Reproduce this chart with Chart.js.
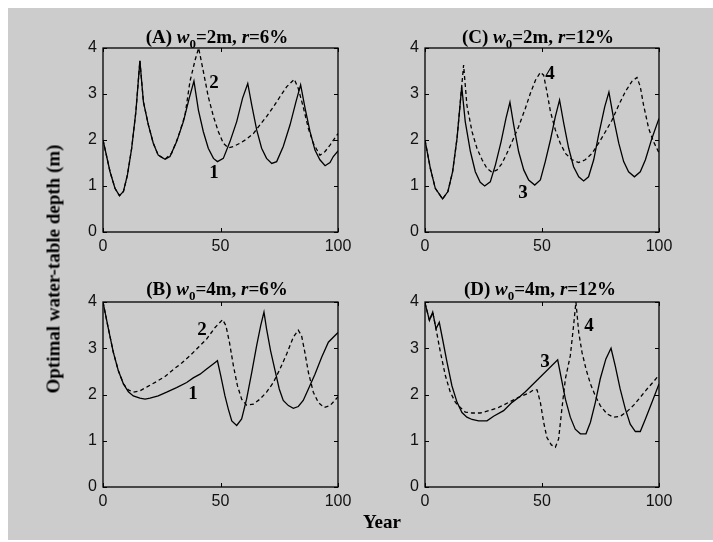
<!DOCTYPE html>
<html>
<head>
<meta charset="utf-8">
<title>Optimal water-table depth</title>
<script src="https://cdn.jsdelivr.net/npm/chart.js@4.4.0/dist/chart.umd.min.js"></script>
<style>
  body { margin: 0; background: #fff; }
  #fig { position: relative; width: 713px; height: 542px; overflow: hidden; }
  #bg { position: absolute; left: 8px; top: 8px; width: 705px; height: 532px; background: #cccccc; }
  canvas { position: absolute; }
  .lbl { position: absolute; font: bold 19px "Liberation Serif", "Times New Roman", serif; line-height: 19px; color: #000; white-space: nowrap; }
  .ttl { transform: translateX(-50%); }
  .ttl sub { font-size: 13px; line-height: 0; vertical-align: -5px; }
  #ylab { left: 53px; top: 269px; transform: translate(-50%, -50%) rotate(-90deg); }
  #xlab { left: 382px; top: 512px; transform: translateX(-50%); }
</style>
</head>
<body>
<div id="fig">
  <div id="bg"></div>
  <canvas id="panelA" width="320" height="220" style="left:43px;top:40px"></canvas>
  <canvas id="panelC" width="320" height="220" style="left:365px;top:40px"></canvas>
  <canvas id="panelB" width="320" height="221" style="left:43px;top:294px"></canvas>
  <canvas id="panelD" width="320" height="221" style="left:365px;top:294px"></canvas>
  <div class="lbl ttl" style="left:217px;top:27px">(A) <i>w</i><sub>0</sub>=2m, <i>r</i>=6%</div>
  <div class="lbl ttl" style="left:538px;top:27px">(C) <i>w</i><sub>0</sub>=2m, <i>r</i>=12%</div>
  <div class="lbl ttl" style="left:217px;top:279px">(B) <i>w</i><sub>0</sub>=4m, <i>r</i>=6%</div>
  <div class="lbl ttl" style="left:540px;top:279px">(D) <i>w</i><sub>0</sub>=4m, <i>r</i>=12%</div>
  <div class="lbl" id="ylab">Optimal water-table depth (m)</div>
  <div class="lbl" id="xlab">Year</div>
</div>
<script>
'use strict';

// tick labels
var yearTicks = [0, 50, 100];
var depthTicks = [0, 1, 2, 3, 4];

// (A) w0=2m, r=6%  -- curve 1 solid, curve 2 dashed
var yearA1 = [0, 3.0, 5.1, 7.0, 8.7, 10.4, 12.2, 14.0, 15.7, 17.2, 19.3, 21.4, 23.5, 26.4, 28.5, 31.3, 34.2, 36.7, 38.7, 40.6, 42.7, 44.8, 47.0, 48.7, 51.2, 54.0, 56.9, 59.4, 61.6, 63.3, 65.4, 67.5, 69.6, 71.8, 73.9, 76.7, 79.6, 82.1, 84.1, 86.0, 88.1, 90.2, 92.3, 94.5, 96.6, 98.0, 100];
var depthA1 = [2.0, 1.31, 0.95, 0.79, 0.88, 1.24, 1.82, 2.62, 3.72, 2.83, 2.33, 1.93, 1.67, 1.58, 1.64, 1.96, 2.40, 2.91, 3.28, 2.65, 2.18, 1.82, 1.60, 1.53, 1.60, 1.96, 2.40, 2.91, 3.23, 2.76, 2.22, 1.82, 1.60, 1.49, 1.53, 1.86, 2.33, 2.83, 3.20, 2.69, 2.18, 1.78, 1.57, 1.44, 1.51, 1.64, 1.76];
var yearA2 = [0, 3.0, 5.1, 7.0, 8.7, 10.4, 12.2, 14.0, 15.7, 17.2, 19.3, 21.4, 23.5, 26.4, 29.2, 32.0, 34.9, 37.0, 39.2, 40.7, 42.7, 44.8, 47.0, 49.1, 51.2, 53.3, 55.5, 58.3, 61.1, 64.0, 66.8, 69.6, 72.5, 75.3, 78.2, 81.4, 83.1, 85.2, 87.4, 89.5, 92.3, 94.5, 96.6, 100];
var depthA2 = [2.0, 1.31, 0.95, 0.79, 0.88, 1.24, 1.82, 2.62, 3.72, 2.83, 2.33, 1.93, 1.67, 1.58, 1.71, 2.07, 2.54, 3.27, 3.74, 4.0, 3.49, 2.94, 2.51, 2.18, 1.93, 1.83, 1.86, 1.93, 2.02, 2.14, 2.33, 2.51, 2.72, 2.94, 3.16, 3.32, 3.12, 2.72, 2.25, 1.93, 1.67, 1.75, 1.89, 2.14];

// (C) w0=2m, r=12%  -- curve 3 solid, curve 4 dashed
var yearC3 = [0, 2.3, 4.4, 7.5, 9.8, 11.8, 13.7, 15.7, 17.2, 19.4, 21.5, 23.6, 25.5, 27.9, 30.1, 32.5, 34.6, 36.3, 37.9, 40.0, 42.2, 44.3, 46.9, 49.3, 51.4, 53.6, 55.7, 57.5, 59.3, 61.4, 63.5, 65.7, 67.8, 69.9, 72.1, 74.2, 76.8, 78.6, 80.6, 82.8, 84.9, 87.0, 89.5, 92.0, 94.2, 97.0, 100];
var depthC3 = [2.0, 1.38, 0.95, 0.72, 0.88, 1.31, 2.04, 3.16, 2.40, 1.75, 1.31, 1.08, 1.00, 1.09, 1.46, 1.96, 2.47, 2.82, 2.33, 1.75, 1.35, 1.13, 1.02, 1.13, 1.53, 2.0, 2.51, 2.87, 2.36, 1.82, 1.42, 1.20, 1.11, 1.20, 1.57, 2.11, 2.72, 3.04, 2.47, 1.93, 1.53, 1.31, 1.20, 1.31, 1.57, 2.04, 2.47];
var yearC4 = [0, 2.3, 4.4, 7.5, 9.8, 11.8, 13.7, 16.5, 17.9, 20.1, 22.2, 24.4, 26.5, 28.6, 30.8, 32.9, 35.0, 37.2, 40.0, 42.9, 45.0, 47.2, 49.3, 50.7, 52.1, 53.6, 55.7, 57.8, 60.0, 62.8, 65.7, 68.5, 71.4, 74.2, 77.1, 79.9, 82.8, 85.6, 88.5, 90.6, 92.0, 93.4, 95.6, 97.7, 100];
var depthC4 = [2.0, 1.38, 0.95, 0.72, 0.88, 1.31, 2.04, 3.63, 2.76, 2.18, 1.82, 1.57, 1.38, 1.30, 1.35, 1.49, 1.71, 1.96, 2.29, 2.69, 3.01, 3.30, 3.47, 3.41, 3.05, 2.62, 2.22, 1.93, 1.71, 1.57, 1.51, 1.57, 1.71, 1.93, 2.18, 2.43, 2.76, 3.05, 3.28, 3.36, 3.16, 2.76, 2.25, 1.96, 1.72];

// (B) w0=4m, r=6%
var yearB1 = [0, 2.3, 4.4, 6.5, 8.7, 10.8, 12.9, 15.7, 17.9, 20.0, 23.5, 27.1, 31.3, 35.6, 38.4, 41.3, 44.1, 46.9, 48.7, 50.1, 51.9, 53.3, 54.8, 56.9, 59.0, 61.1, 63.3, 65.4, 67.1, 68.5, 69.6, 71.3, 73.2, 75.0, 76.7, 78.9, 81.0, 83.1, 85.2, 87.4, 90.2, 93.0, 95.9, 100];
var depthB1 = [4.0, 3.42, 2.91, 2.52, 2.23, 2.06, 1.97, 1.92, 1.90, 1.92, 1.97, 2.05, 2.15, 2.26, 2.36, 2.44, 2.55, 2.66, 2.73, 2.41, 1.97, 1.69, 1.43, 1.33, 1.47, 1.90, 2.48, 3.06, 3.49, 3.78, 3.42, 2.95, 2.52, 2.12, 1.87, 1.76, 1.70, 1.74, 1.87, 2.12, 2.44, 2.80, 3.13, 3.34];
var yearB2 = [0, 2.3, 4.4, 6.5, 8.7, 10.8, 12.9, 15.7, 19.3, 22.8, 26.4, 29.9, 33.5, 37.0, 40.6, 44.1, 47.7, 50.9, 52.3, 53.8, 55.5, 57.2, 59.0, 61.1, 64.0, 66.8, 69.6, 72.5, 75.3, 78.2, 81.0, 83.1, 84.5, 85.9, 87.4, 89.5, 91.6, 94.0, 96.6, 100];
var depthB2 = [4.0, 3.42, 2.91, 2.52, 2.23, 2.10, 2.05, 2.08, 2.18, 2.28, 2.39, 2.54, 2.68, 2.84, 3.02, 3.20, 3.45, 3.62, 3.49, 3.13, 2.62, 2.19, 1.90, 1.77, 1.79, 1.90, 2.05, 2.26, 2.55, 2.88, 3.24, 3.39, 3.27, 2.91, 2.48, 2.05, 1.83, 1.72, 1.76, 1.95];

// (D) w0=4m, r=12%
var yearD3 = [0, 1.9, 3.3, 4.7, 6.1, 7.5, 9.4, 11.5, 13.7, 15.8, 17.9, 20.1, 22.9, 26.5, 29.3, 33.6, 37.2, 40.7, 42.9, 56.7, 58.3, 60.0, 62.1, 64.2, 66.4, 68.8, 70.7, 72.8, 74.9, 77.3, 79.5, 81.3, 83.4, 85.6, 87.7, 89.9, 92.0, 94.2, 97.0, 100];
var depthD3 = [3.98, 3.6, 3.78, 3.42, 3.56, 3.20, 2.70, 2.19, 1.83, 1.61, 1.51, 1.46, 1.43, 1.43, 1.53, 1.65, 1.83, 1.96, 2.06, 2.75, 2.34, 1.90, 1.51, 1.25, 1.15, 1.15, 1.40, 1.83, 2.34, 2.77, 3.0, 2.62, 2.12, 1.69, 1.36, 1.20, 1.20, 1.47, 1.83, 2.23];
var yearD4 = [0, 1.9, 3.3, 4.7, 6.6, 8.7, 10.8, 13.0, 15.1, 17.2, 20.1, 23.6, 27.2, 31.5, 35.8, 40.0, 44.3, 46.4, 47.9, 49.3, 50.7, 52.1, 54.0, 55.7, 57.1, 58.5, 60.0, 62.1, 63.5, 64.5, 65.7, 67.1, 68.8, 70.7, 72.8, 74.9, 77.8, 80.6, 83.5, 86.3, 89.2, 92.0, 94.9, 97.7, 100];
var depthD4 = [3.98, 3.6, 3.78, 3.42, 2.91, 2.41, 2.05, 1.83, 1.72, 1.62, 1.60, 1.60, 1.65, 1.72, 1.83, 1.94, 2.03, 2.10, 2.10, 1.83, 1.40, 1.07, 0.91, 0.86, 1.04, 1.69, 2.34, 2.84, 3.49, 4.0, 3.34, 2.91, 2.55, 2.23, 1.97, 1.76, 1.58, 1.51, 1.53, 1.63, 1.77, 1.94, 2.12, 2.28, 2.42];

var tickFont = { family: '"Liberation Sans Narrow", "Arial Narrow", "Liberation Sans", sans-serif', size: 16 };

function pairs(xs, ys) {
  return xs.map(function (x, i) { return { x: x, y: ys[i] }; });
}

function curve(xs, ys, dashed) {
  return {
    data: pairs(xs, ys),
    showLine: true,
    pointRadius: 0,
    borderColor: '#000',
    borderWidth: 1.3,
    borderDash: dashed ? [4, 3] : [],
    tension: 0
  };
}

// box round the axes, inward ticks on all sides, numbers beside the curves
var boxPlugin = {
  id: 'box',
  afterDraw: function (chart, args, opts) {
    var ctx = chart.ctx, a = chart.chartArea;
    var xs = chart.scales.x, ys = chart.scales.y;
    ctx.save();
    ctx.strokeStyle = '#000';
    ctx.lineWidth = 1.3;
    ctx.strokeRect(a.left, a.top, a.right - a.left, a.bottom - a.top);
    ctx.lineWidth = 1;
    ctx.beginPath();
    depthTicks.forEach(function (v) {
      var py = Math.round(ys.getPixelForValue(v)) + 0.5;
      ctx.moveTo(a.left, py); ctx.lineTo(a.left + 4, py);
      ctx.moveTo(a.right, py); ctx.lineTo(a.right - 4, py);
    });
    yearTicks.forEach(function (v) {
      var px = Math.round(xs.getPixelForValue(v)) + 0.5;
      ctx.moveTo(px, a.bottom); ctx.lineTo(px, a.bottom - 4);
      ctx.moveTo(px, a.top); ctx.lineTo(px, a.top + 4);
    });
    ctx.stroke();
    ctx.fillStyle = '#000';
    ctx.font = 'bold 19px "Liberation Serif", "Times New Roman", serif';
    ctx.textAlign = 'center';
    ctx.textBaseline = 'middle';
    (opts.tags || []).forEach(function (t) {
      ctx.fillText(t.text, xs.getPixelForValue(t.x), ys.getPixelForValue(t.y));
    });
    ctx.restore();
  }
};

function makePanel(id, solid, dashed, tags, rightPad, axisH) {
  return new Chart(document.getElementById(id), {
    type: 'scatter',
    data: { datasets: [dashed, solid] },
    options: {
      responsive: false,
      animation: false,
      events: [],
      layout: { autoPadding: false, padding: { left: 0, top: 8, right: rightPad, bottom: 0 } },
      plugins: { legend: { display: false }, tooltip: { enabled: false }, box: { tags: tags } },
      scales: {
        x: {
          type: 'linear', min: 0, max: 100,
          afterBuildTicks: function (s) { s.ticks = yearTicks.map(function (v) { return { value: v }; }); },
          ticks: { font: tickFont, color: '#111', padding: 5, maxRotation: 0, autoSkip: false },
          grid: { display: false, drawTicks: false },
          border: { display: false },
          afterFit: function (s) { s.height = axisH; s.paddingLeft = 0; s.paddingRight = 0; }
        },
        y: {
          type: 'linear', min: 0, max: 4,
          afterBuildTicks: function (s) { s.ticks = depthTicks.map(function (v) { return { value: v }; }); },
          ticks: { font: tickFont, color: '#111', padding: 6 },
          grid: { display: false, drawTicks: false },
          border: { display: false },
          afterFit: function (s) { s.width = 60; s.paddingTop = 0; s.paddingBottom = 0; }
        }
      }
    },
    plugins: [boxPlugin]
  });
}

makePanel('panelA', curve(yearA1, depthA1, false), curve(yearA2, depthA2, true),
  [{ text: '2', x: 47.2, y: 3.24 }, { text: '1', x: 47.2, y: 1.28 }], 25, 28);
makePanel('panelC', curve(yearC3, depthC3, false), curve(yearC4, depthC4, true),
  [{ text: '4', x: 53.4, y: 3.43 }, { text: '3', x: 41.9, y: 0.85 }], 26, 28);
makePanel('panelB', curve(yearB1, depthB1, false), curve(yearB2, depthB2, true),
  [{ text: '2', x: 42.1, y: 3.39 }, { text: '1', x: 38.3, y: 2.01 }], 25, 28);
makePanel('panelD', curve(yearD3, depthD3, false), curve(yearD4, depthD4, true),
  [{ text: '3', x: 51.3, y: 2.70 }, { text: '4', x: 70.1, y: 3.48 }], 26, 28);
</script>
</body>
</html>
